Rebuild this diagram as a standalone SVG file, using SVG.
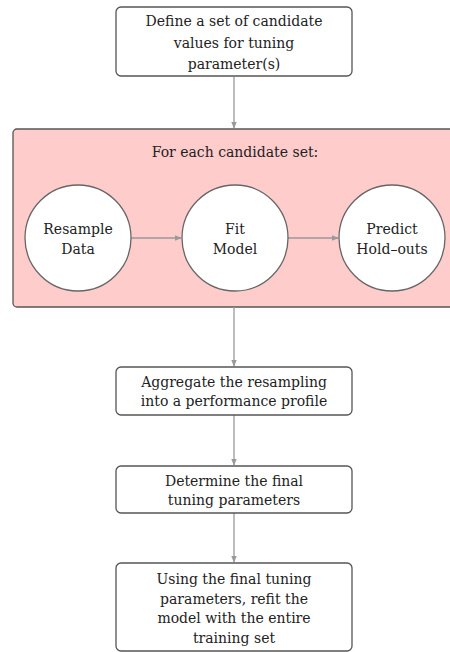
<svg xmlns="http://www.w3.org/2000/svg" width="450" height="652" viewBox="0 0 450 652">
<style>
.box{fill:#ffffff;stroke:#555555;stroke-width:1.3}
.circ{fill:#ffffff;stroke:#666666;stroke-width:1.3}
.group{fill:#ffcccc;stroke:#555555;stroke-width:1.3}
.conn{stroke:#999999;stroke-width:1.3;fill:none;marker-end:url(#ah)}
.t{font-family:'DejaVu Serif','Liberation Serif',serif;font-size:14px;fill:#222222;text-anchor:middle}
</style>
<defs>
<marker id="ah" viewBox="0 0 10 10" refX="9" refY="5" markerWidth="7" markerHeight="7" markerUnits="userSpaceOnUse" orient="auto">
<path d="M0,1 L10,5 L0,9 Z" fill="#999999"/>
</marker>
</defs>
<g id="loop">
<rect class="group" x="13" y="129" width="445" height="178" rx="4"/>
<text class="t" x="235" y="157" font-family="DejaVu Serif, serif">For each candidate set:</text>
</g>
<g id="connectors">
<line class="conn" x1="234" y1="77" x2="234" y2="128"/>
<line class="conn" x1="131" y1="238" x2="181" y2="238"/>
<line class="conn" x1="288" y1="238" x2="338" y2="238"/>
<line class="conn" x1="234" y1="307" x2="234" y2="366"/>
<line class="conn" x1="234" y1="415" x2="234" y2="465"/>
<line class="conn" x1="234" y1="513" x2="234" y2="562"/>
</g>
<g id="define">
<rect class="box" x="116" y="7" width="236" height="69" rx="5"/>
<text class="t" x="234" y="26">Define a set of candidate</text>
<text class="t" x="234" y="48">values for tuning</text>
<text class="t" x="234" y="69">parameter(s)</text>
</g>
<g id="resample">
<circle class="circ" cx="78" cy="238" r="53"/>
<text class="t" x="78" y="234">Resample</text>
<text class="t" x="78" y="254">Data</text>
</g>
<g id="fit">
<circle class="circ" cx="235" cy="238" r="53"/>
<text class="t" x="235" y="234">Fit</text>
<text class="t" x="235" y="254">Model</text>
</g>
<g id="predict">
<circle class="circ" cx="392" cy="238" r="53"/>
<text class="t" x="392" y="234">Predict</text>
<text class="t" x="392" y="254">Hold–outs</text>
</g>
<g id="aggregate">
<rect class="box" x="116" y="367" width="236" height="48" rx="5"/>
<text class="t" x="234" y="387">Aggregate the resampling</text>
<text class="t" x="234" y="406">into a performance profile</text>
</g>
<g id="determine">
<rect class="box" x="116" y="466" width="236" height="47" rx="5"/>
<text class="t" x="234" y="486">Determine the final</text>
<text class="t" x="234" y="505">tuning parameters</text>
</g>
<g id="refit">
<rect class="box" x="116" y="563" width="236" height="88" rx="5"/>
<text class="t" x="234" y="584">Using the final tuning</text>
<text class="t" x="234" y="604">parameters, refit the</text>
<text class="t" x="234" y="623">model with the entire</text>
<text class="t" x="234" y="643">training set</text>
</g>
</svg>
